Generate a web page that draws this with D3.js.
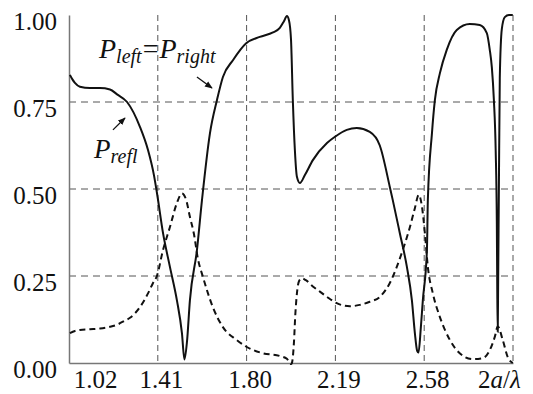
<!DOCTYPE html>
<html>
<head>
<meta charset="utf-8">
<script src="https://cdn.jsdelivr.net/npm/d3@7"></script>
<style>
  html, body { margin: 0; padding: 0; background: #fff; }
  svg { display: block; font-family: "Liberation Serif", "DejaVu Serif", serif; }
</style>
</head>
<body>
<div id="chart"></div>
<script>
// x = 2a/lambda
const xTicks = [1.02, 1.41, 1.80, 2.19, 2.58, 2.97];
const xTickLabels = ['1.02', '1.41', '1.80', '2.19', '2.58', ''];
const yTicks = [0, 0.25, 0.5, 0.75, 1.0];
const yTickLabels = ['0.00', '0.25', '0.50', '0.75', '1.00'];

// P_left = P_right (solid)
const transX = [1.024, 1.035, 1.046, 1.068, 1.112, 1.156, 1.200, 1.231, 1.275, 1.332, 1.367, 1.393, 1.406,
  1.433, 1.463, 1.494, 1.516, 1.527, 1.538, 1.551, 1.582, 1.604, 1.639, 1.670, 1.696, 1.740, 1.797,
  1.858, 1.916, 1.946, 1.964, 1.977, 1.986, 1.995, 2.003, 2.012, 2.021, 2.034, 2.056, 2.091, 2.153,
  2.188, 2.240, 2.284, 2.341, 2.385, 2.429, 2.442, 2.473, 2.504, 2.526, 2.539, 2.549, 2.555, 2.565, 2.574,
  2.592, 2.596, 2.614, 2.627, 2.649, 2.679, 2.723, 2.780, 2.824, 2.855, 2.868, 2.877, 2.886, 2.894,
  2.899, 2.901, 2.903, 2.905, 2.908, 2.912, 2.921, 2.934, 2.952, 2.969];
const transY = [0.828, 0.815, 0.805, 0.794, 0.790, 0.790, 0.786, 0.772, 0.750, 0.678, 0.612, 0.540, 0.490,
  0.373, 0.277, 0.180, 0.086, 0.010, 0.060, 0.180, 0.325, 0.468, 0.660, 0.756, 0.822, 0.870, 0.918,
  0.937, 0.950, 0.963, 0.982, 0.997, 0.985, 0.930, 0.756, 0.612, 0.535, 0.517, 0.540, 0.583, 0.632,
  0.650, 0.670, 0.675, 0.664, 0.625, 0.506, 0.468, 0.373, 0.276, 0.180, 0.086, 0.035, 0.030, 0.100, 0.180,
  0.325, 0.468, 0.660, 0.756, 0.833, 0.900, 0.957, 0.974, 0.971, 0.948, 0.900, 0.850, 0.756, 0.610,
  0.400, 0.200, 0.090, 0.250, 0.500, 0.820, 0.960, 0.994, 1.000, 1.000];

// P_refl (dashed)
const reflX = [1.024, 1.046, 1.068, 1.112, 1.156, 1.200, 1.231, 1.266, 1.288, 1.332, 1.367, 1.389, 1.406,
  1.433, 1.463, 1.494, 1.516, 1.534, 1.551, 1.569, 1.586, 1.608, 1.652, 1.696, 1.757, 1.801, 1.872,
  1.946, 1.977, 1.995, 1.999, 2.008, 2.014, 2.021, 2.030, 2.043, 2.060, 2.091, 2.122, 2.153, 2.196,
  2.254, 2.297, 2.341, 2.385, 2.429, 2.460, 2.486, 2.517, 2.539, 2.556, 2.570, 2.583, 2.596, 2.618,
  2.649, 2.693, 2.736, 2.793, 2.837, 2.868, 2.890, 2.903, 2.925, 2.947, 2.969];
const reflY = [0.086, 0.092, 0.095, 0.097, 0.099, 0.104, 0.110, 0.122, 0.130, 0.161, 0.200, 0.230, 0.250,
  0.325, 0.390, 0.460, 0.487, 0.470, 0.420, 0.370, 0.300, 0.248, 0.160, 0.103, 0.066, 0.046, 0.028,
  0.020, 0.012, -0.003, 0.000, 0.060, 0.140, 0.200, 0.235, 0.243, 0.238, 0.220, 0.205, 0.190, 0.172,
  0.163, 0.167, 0.176, 0.190, 0.230, 0.277, 0.325, 0.390, 0.445, 0.483, 0.450, 0.373, 0.276, 0.200,
  0.132, 0.066, 0.028, 0.011, 0.014, 0.037, 0.075, 0.105, 0.066, 0.017, 0.000];

const width = 533, height = 394;
const x = d3.scaleLinear().domain([1.02, 2.97]).range([69, 513]);
const y = d3.scaleLinear().domain([0, 1]).range([363, 15]);

const svg = d3.select('#chart').append('svg')
  .attr('width', width)
  .attr('height', height);

// Grid lines
svg.append('g')
  .selectAll('line')
  .data(yTicks.filter(v => v > 0 && v < 1))
  .enter().append('line')
  .attr('x1', x(1.02)).attr('x2', x(2.97))
  .attr('y1', d => y(d)).attr('y2', d => y(d))
  .attr('stroke', '#555').attr('stroke-width', 1).attr('stroke-dasharray', '7,5');

svg.append('g')
  .selectAll('line')
  .data(xTicks.slice(1))
  .enter().append('line')
  .attr('x1', d => x(d)).attr('x2', d => x(d))
  .attr('y1', y(1)).attr('y2', y(0))
  .attr('stroke', '#555').attr('stroke-width', 1).attr('stroke-dasharray', '6,4');

// Axes
const yAxis = svg.append('g')
  .attr('transform', `translate(${x(1.02)},0)`)
  .call(d3.axisLeft(y).tickValues(yTicks).tickSize(0).tickFormat((d, i) => yTickLabels[i]));
yAxis.select('.domain').attr('stroke', '#777').attr('stroke-width', 1.5);
yAxis.selectAll('text')
  .attr('x', -12).attr('dy', 14)
  .style('font-size', '25px').style('font-family', '"Liberation Serif", serif').style('fill', '#111');

const xAxis = svg.append('g')
  .attr('transform', `translate(0,${y(0)})`)
  .call(d3.axisBottom(x).tickValues(xTicks).tickSize(0).tickFormat((d, i) => xTickLabels[i]));
xAxis.select('.domain').attr('stroke', '#777').attr('stroke-width', 1.5);
const xOffsets = [26, 3, 3, 3, 3, -14];
xAxis.selectAll('text')
  .attr('y', 25).attr('dy', 0)
  .attr('dx', (d, i) => xOffsets[i])
  .style('font-size', '25px').style('font-family', '"Liberation Serif", serif').style('fill', '#111');

// x axis name in place of the last tick label
const lastTick = xAxis.selectAll('.tick').filter(d => d === 2.97).select('text');
lastTick.append('tspan').text('2');
lastTick.append('tspan').style('font-style', 'italic').text('a');
lastTick.append('tspan').text('/');
lastTick.append('tspan').style('font-style', 'italic').text('λ');

// Curves
const line = d3.line()
  .x(d => x(d[0]))
  .y(d => y(d[1]))
  .curve(d3.curveMonotoneX);

svg.append('path')
  .datum(reflX.map((v, i) => [v, reflY[i]]))
  .attr('fill', 'none')
  .attr('stroke', '#111')
  .attr('stroke-width', 2)
  .attr('stroke-dasharray', '6,4')
  .attr('d', line);

svg.append('path')
  .datum(transX.map((v, i) => [v, transY[i]]))
  .attr('fill', 'none')
  .attr('stroke', '#111')
  .attr('stroke-width', 2)
  .attr('d', line);

// Annotations
const defs = svg.append('defs');
defs.append('marker')
  .attr('id', 'arrow')
  .attr('viewBox', '0 0 10 10')
  .attr('refX', 9).attr('refY', 5)
  .attr('markerWidth', 6).attr('markerHeight', 6)
  .attr('orient', 'auto')
  .append('path')
  .attr('d', 'M0,1 L10,5 L0,9 Z')
  .attr('fill', '#111');

svg.append('line')
  .attr('x1', x(1.582)).attr('y1', y(0.822))
  .attr('x2', x(1.648)).attr('y2', y(0.790))
  .attr('stroke', '#111').attr('stroke-width', 1.3)
  .attr('marker-end', 'url(#arrow)');

svg.append('line')
  .attr('x1', x(1.213)).attr('y1', y(0.670))
  .attr('x2', x(1.266)).attr('y2', y(0.704))
  .attr('stroke', '#111').attr('stroke-width', 1.3)
  .attr('marker-end', 'url(#arrow)');

const label1 = svg.append('text')
  .attr('x', 99).attr('y', 58)
  .style('font-size', '28px').style('fill', '#111');
label1.append('tspan').style('font-style', 'italic').text('P');
label1.append('tspan').style('font-style', 'italic').style('font-size', '20px').attr('dy', 5).text('left');
label1.append('tspan').attr('dy', -5).attr('dx', 1).text('=');
label1.append('tspan').style('font-style', 'italic').attr('dx', 1).text('P');
label1.append('tspan').style('font-style', 'italic').style('font-size', '20px').attr('dy', 5).text('right');

const label2 = svg.append('text')
  .attr('x', 94).attr('y', 158)
  .style('font-size', '27px').style('fill', '#111');
label2.append('tspan').style('font-style', 'italic').text('P');
label2.append('tspan').style('font-style', 'italic').style('font-size', '20px').attr('dy', 5).text('refl');
</script>
</body>
</html>
